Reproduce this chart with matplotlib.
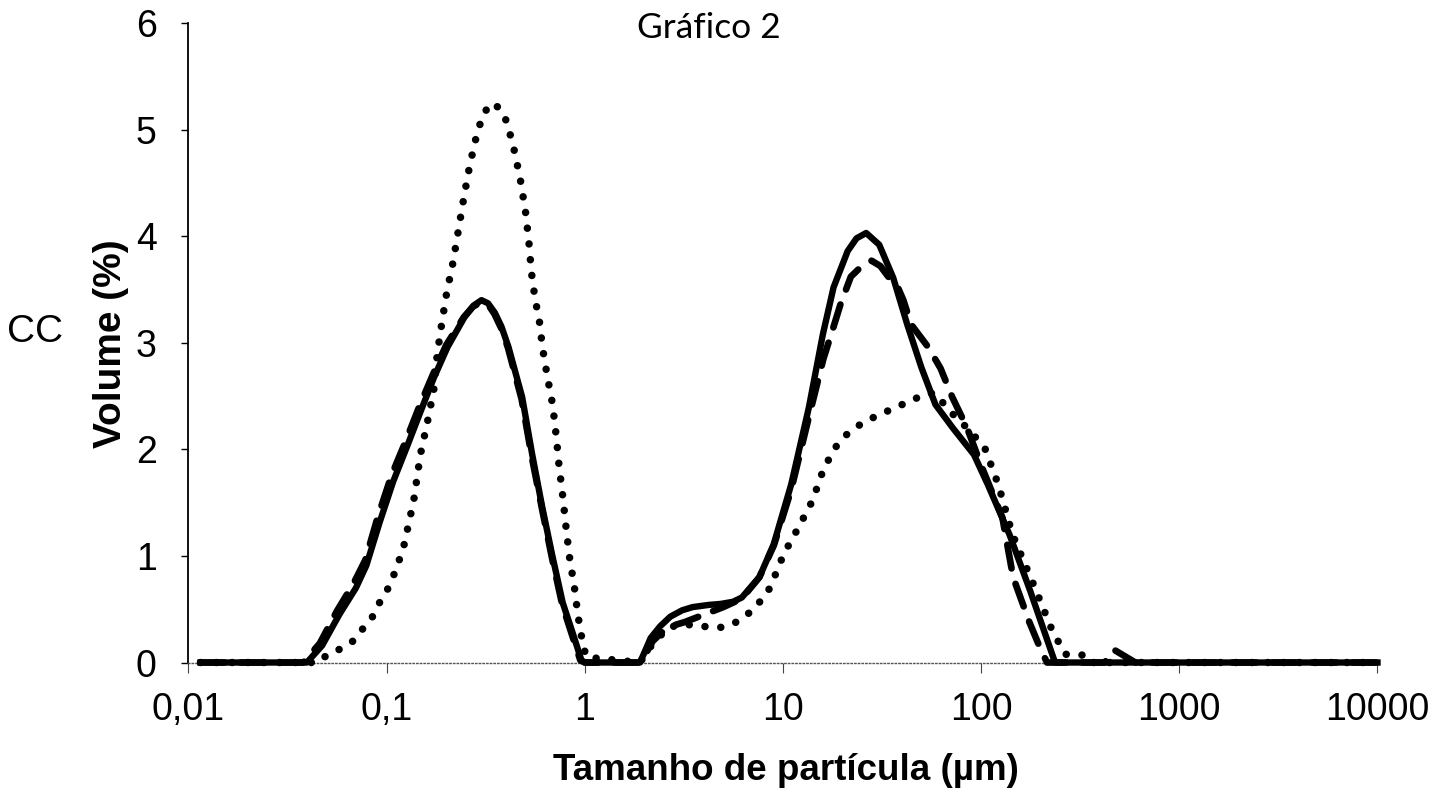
import numpy as np
import matplotlib
matplotlib.use('Agg')
import matplotlib.pyplot as plt

## values (x in um, y in volume %)
x_solid = [0.0115, 0.0396, 0.0473, 0.0577, 0.070, 0.079, 0.092, 0.108, 0.127, 0.148,
           0.173, 0.203, 0.247, 0.275, 0.301, 0.325, 0.352, 0.38, 0.412, 0.483,
           0.543, 0.611, 0.688, 0.774, 0.871, 0.962, 1.0, 1.90, 2.15, 2.4,
           2.7, 3.1, 3.5, 4.2, 4.86, 5.6, 6.2, 7.6, 8.98, 11.0,
           13.5, 15.9, 18.0, 21.2, 23.5, 26.3, 30.6, 36, 42.4, 49.9,
           58.8, 72, 92, 108, 139, 177, 236, 10000]
y_solid = [0, 0, 0.16, 0.45, 0.70, 0.91, 1.31, 1.70, 2.03, 2.35,
           2.67, 2.96, 3.24, 3.35, 3.40, 3.37, 3.28, 3.15, 2.96, 2.49,
           1.95, 1.45, 0.99, 0.56, 0.27, 0.02, 0, 0, 0.23, 0.34,
           0.43, 0.49, 0.52, 0.54, 0.55, 0.57, 0.61, 0.80, 1.11, 1.67,
           2.39, 3.08, 3.52, 3.86, 3.98, 4.03, 3.92, 3.61, 3.17, 2.77,
           2.42, 2.20, 1.95, 1.67, 1.20, 0.67, 0, 0]

x_dash = [0.0115, 0.038, 0.046, 0.056, 0.068, 0.078, 0.090, 0.106, 0.125, 0.146,
          0.171, 0.200, 0.245, 0.273, 0.30, 0.325, 0.35, 0.38, 0.41, 0.48,
          0.54, 0.61, 0.685, 0.77, 0.865, 0.95, 1.0, 1.92, 2.2, 2.6,
          3.2, 4.0, 5.0, 6.2, 7.6, 9.0, 11.0, 13.5, 16.0, 18.0,
          19.5, 22.0, 25.0, 28.0, 31.0, 34.0, 37.2, 40.5, 44.4, 54,
          62.4, 71.5, 85, 100, 128, 145, 175, 200, 215, 420,
          468, 530, 600, 10000]
y_dash = [0, 0, 0.18, 0.48, 0.74, 0.96, 1.36, 1.76, 2.08, 2.40,
          2.70, 2.98, 3.24, 3.34, 3.38, 3.36, 3.27, 3.13, 2.95, 2.47,
          1.93, 1.43, 0.97, 0.54, 0.25, 0.02, 0, 0, 0.20, 0.33,
          0.38, 0.45, 0.52, 0.60, 0.80, 1.10, 1.62, 2.30, 2.85, 3.15,
          3.36, 3.62, 3.72, 3.77, 3.72, 3.62, 3.56, 3.40, 3.17, 2.96,
          2.76, 2.49, 2.20, 1.85, 1.36, 0.80, 0.38, 0.12, 0, 0,
          0.12, 0.06, 0, 0]

x_dot = [0.0115, 0.045, 0.050, 0.0588, 0.0675, 0.0745, 0.0838, 0.092, 0.102, 0.112,
         0.122, 0.137, 0.148, 0.160, 0.173, 0.180, 0.190, 0.201, 0.216, 0.229,
         0.242, 0.258, 0.277, 0.290, 0.308, 0.339, 0.372, 0.405, 0.444, 0.475,
         0.502, 0.522, 0.538, 0.563, 0.587, 0.611, 0.646, 0.688, 0.717, 0.741,
         0.774, 0.804, 0.837, 0.887, 0.922, 0.98, 1.02, 1.9, 2.15, 2.63,
         3.2, 3.8, 4.86, 5.7, 6.5, 7.3, 8.6, 10.1, 12, 14.1,
         16.05, 17.2, 18.6, 21, 23.9, 27.9, 32, 37.6, 43.7, 50.8,
         58, 72, 85, 104, 122, 144, 184, 225, 264, 280,
         340, 360, 10000]
y_dot = [0, 0, 0.07, 0.13, 0.20, 0.30, 0.41, 0.56, 0.70, 0.88,
         1.09, 1.52, 1.95, 2.24, 2.56, 2.89, 3.19, 3.47, 3.75, 4.03,
         4.30, 4.59, 4.86, 5.00, 5.15, 5.25, 5.20, 5.07, 4.78, 4.51,
         4.23, 3.95, 3.66, 3.39, 3.24, 2.96, 2.69, 2.42, 2.13, 1.85,
         1.56, 1.27, 0.99, 0.70, 0.45, 0.16, 0.05, 0, 0.15, 0.33,
         0.36, 0.34, 0.33, 0.37, 0.44, 0.52, 0.70, 1.02, 1.27, 1.52,
         1.82, 1.92, 2.03, 2.14, 2.22, 2.29, 2.34, 2.40, 2.45, 2.51,
         2.53, 2.33, 2.20, 2.02, 1.67, 1.20, 0.73, 0.33, 0.08, 0.07,
         0.07, 0, 0]

xticks = [0.01, 0.1, 1, 10, 100, 1000, 10000]
xtick_labels = ['0,01', '0,1', '1', '10', '100', '1000', '10000']
yticks = [0, 1, 2, 3, 4, 5, 6]

plt.rcParams['font.family'] = ['Liberation Sans', 'DejaVu Sans']

fig = plt.figure(figsize=(14.43, 7.94), dpi=100)
ax = fig.add_axes([0.1306, 0.1656, 0.824, 0.8054])

ax.plot(x_dot, y_dot, color='black', lw=5.4, linestyle=(0, (0.01, 2.1)),
        dash_capstyle='round', clip_on=False, zorder=3)
ax.plot(x_dash, y_dash, color='black', lw=4.8, linestyle=(0, (3.6, 2.4)),
        dash_capstyle='round', clip_on=False, zorder=4)
ax.plot(x_solid, y_solid, color='black', lw=4.6, solid_joinstyle='round',
        clip_on=False, zorder=5)

ax.set_xscale('log')
ax.set_xlim(0.01, 10000)
ax.set_ylim(0, 6)
ax.set_xticks(xticks)
ax.set_xticklabels(xtick_labels)
ax.minorticks_off()
ax.set_yticks(yticks)

for s in ['top', 'right']:
    ax.spines[s].set_visible(False)
ax.spines['left'].set_linewidth(1.3)
ax.spines['bottom'].set_linestyle(':')
ax.spines['bottom'].set_color('#555555')
ax.spines['bottom'].set_linewidth(1.0)

ax.tick_params(axis='x', length=7, width=0.8, color='#444444', labelsize=27, pad=14)
ax.tick_params(axis='y', length=5, width=1.0, labelsize=27, pad=18)

fig.text(0.491, 0.952, 'Gráfico 2', family=['Lato', 'DejaVu Sans'], fontsize=25.5,
         ha='center', va='baseline')
fig.text(0.0769, 0.567, 'Volume (%)', fontsize=28, fontweight='bold', rotation=90,
         ha='center', va='center')
fig.text(0.0243, 0.582, 'CC', fontsize=28, ha='center', va='center')
fig.text(0.545, 0.0176, 'Tamanho de partícula (µm)', fontsize=26.5, fontweight='bold',
         ha='center', va='baseline')

fig.savefig('out.png', dpi=100)
